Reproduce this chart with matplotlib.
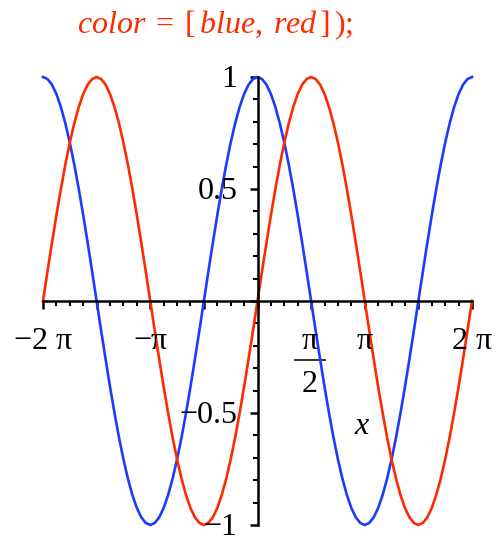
# cos (blue) and sin (red) over [-2 pi, 2 pi], drawn in the Maple plot style

import numpy as np
import matplotlib
matplotlib.use('Agg')
import matplotlib.pyplot as plt
from matplotlib.ticker import MultipleLocator

plt.rcParams['font.family'] = 'Liberation Serif'
plt.rcParams['mathtext.fontset'] = 'custom'
plt.rcParams['mathtext.rm'] = 'Liberation Serif'
plt.rcParams['mathtext.it'] = 'Liberation Serif:italic'

# sample positions, in steps of pi/24
x = np.linspace(-2, 2, 97) * np.pi

# one period of each curve, 48 samples
cos_period = [1.000, 0.991, 0.966, 0.924, 0.866, 0.793, 0.707, 0.609, 0.500, 0.383, 0.259, 0.131,
              0.000, -0.131, -0.259, -0.383, -0.500, -0.609, -0.707, -0.793, -0.866, -0.924, -0.966, -0.991,
              -1.000, -0.991, -0.966, -0.924, -0.866, -0.793, -0.707, -0.609, -0.500, -0.383, -0.259, -0.131,
              0.000, 0.131, 0.259, 0.383, 0.500, 0.609, 0.707, 0.793, 0.866, 0.924, 0.966, 0.991]
sin_period = [0.000, 0.131, 0.259, 0.383, 0.500, 0.609, 0.707, 0.793, 0.866, 0.924, 0.966, 0.991,
              1.000, 0.991, 0.966, 0.924, 0.866, 0.793, 0.707, 0.609, 0.500, 0.383, 0.259, 0.131,
              0.000, -0.131, -0.259, -0.383, -0.500, -0.609, -0.707, -0.793, -0.866, -0.924, -0.966, -0.991,
              -1.000, -0.991, -0.966, -0.924, -0.866, -0.793, -0.707, -0.609, -0.500, -0.383, -0.259, -0.131]
blue_y = cos_period + cos_period + [1.000]
red_y = sin_period + sin_period + [0.000]

xtick_pos = [-2*np.pi, -np.pi, np.pi, 2*np.pi]
xtick_txt = ['\u22122 \u03c0', '\u2212\u03c0', '\u03c0', '2 \u03c0']
ytick_pos = [1, 0.5, -0.5, -1]
ytick_txt = ['1', '0.5', '\u22120.5', '\u22121']

BLUE = '#1a3cff'
RED = '#ff2a00'

fig = plt.figure(figsize=(4.98, 5.38), dpi=100)
ax = fig.add_axes([43/498, 13/538, 429/498, 448/538])

ax.plot(x, blue_y, color=BLUE, lw=1.9, clip_on=False, zorder=3, solid_joinstyle='round')
ax.plot(x, red_y, color=RED, lw=1.9, clip_on=False, zorder=3, solid_joinstyle='round')

ax.set_xlim(-2*np.pi, 2*np.pi)
ax.set_ylim(-1, 1)

# axes through the origin
for s in ['top', 'right']:
    ax.spines[s].set_visible(False)
ax.spines['left'].set_position(('data', 0))
ax.spines['bottom'].set_position(('data', 0))
for s in ['left', 'bottom']:
    ax.spines[s].set_linewidth(1.8)
    ax.spines[s].set_zorder(4)

ax.xaxis.set_major_locator(MultipleLocator(np.pi/2))
ax.xaxis.set_minor_locator(MultipleLocator(np.pi/8))
ax.yaxis.set_major_locator(MultipleLocator(0.5))
ax.yaxis.set_minor_locator(MultipleLocator(0.1))
ax.tick_params(which='major', direction='out', length=6, width=1.8)
ax.tick_params(which='minor', direction='out', length=3.5, width=1.5)
ax.set_xticklabels([])
ax.set_yticklabels([])

fs = 23
for p, t in zip(xtick_pos, xtick_txt):
    ax.text(p, -0.18, t, ha='center', va='center', fontsize=fs)

# pi/2 label written as a stacked fraction
half = np.pi/2
ax.text(half - 0.05, -0.18, '\u03c0', ha='center', va='center', fontsize=fs)
ax.plot([half - 0.47, half + 0.41], [-0.263, -0.263], color='#333333', lw=1.4, clip_on=False)
ax.text(half - 0.05, -0.375, '2', ha='center', va='center', fontsize=fs)

for p, t in zip(ytick_pos, ytick_txt):
    ax.text(-0.59, p - 0.012, t, ha='right', va='center', fontsize=fs)

ax.text(3.05, -0.56, 'x', style='italic', ha='center', va='center', fontsize=fs)

fig.text(0.432, 0.954, r'$color\;=\;[\,blue,\;red\,]\,);$', color=RED,
         ha='center', va='center', fontsize=fs)

fig.savefig('out.png', dpi=100)
